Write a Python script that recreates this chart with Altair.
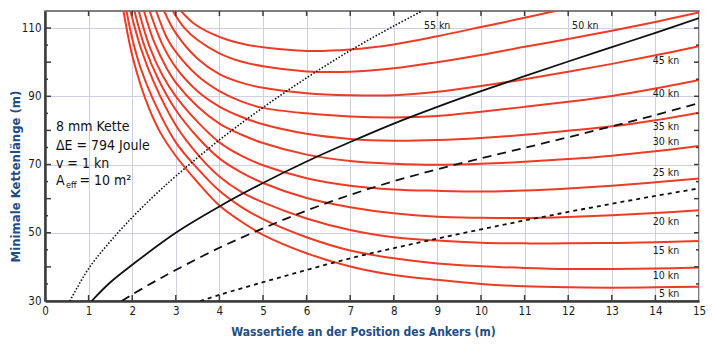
import altair as alt
import pandas as pd

FONT = "DejaVu Sans Condensed, Liberation Sans Narrow, sans-serif"
RED = "#ef3b24"
BLUE = "#1f4e85"

# ---- red curves (speed in kn): water depth x, minimal chain length y ----
speeds = [5, 10, 15, 20, 25, 30, 35, 40, 45, 50, 55]

x_5 = [1.80, 1.9, 2.0, 2.2, 2.4, 2.64, 3.0, 3.5, 4.0, 4.5, 5, 6, 7, 8, 9, 10, 11, 12, 13, 14, 15]
y_5 = [115, 108, 102, 93, 86, 79.5, 72.5, 64.8, 58.0, 53.3, 49.4, 44.0, 40.1, 37.6, 36.2, 35.0, 34.3, 34.0, 33.9, 34.0, 34.2]

x_10 = [1.87, 2.0, 2.2, 2.5, 3.0, 3.5, 4.0, 4.5, 5, 6, 7, 8, 9, 10, 11, 12, 13, 14, 15]
y_10 = [115, 107, 98, 88.5, 76.5, 68.8, 62.3, 57.6, 54.0, 48.7, 44.8, 42.5, 41.0, 40.2, 39.7, 39.4, 39.4, 39.5, 39.8]

x_15 = [1.96, 2.2, 2.5, 3.0, 3.5, 4.0, 4.5, 5, 6, 7, 8, 9, 10, 11, 12, 13, 14, 15]
y_15 = [115, 104, 94, 81.5, 73, 66.5, 62.0, 58.9, 54.2, 50.8, 48.7, 47.7, 47.1, 46.9, 46.9, 47.0, 47.2, 47.6]

x_20 = [2.05, 2.3, 2.6, 3.0, 3.5, 4.0, 4.5, 5, 6, 7, 8, 9, 10, 11, 12, 13, 14, 15]
y_20 = [115, 104, 95, 86, 78.0, 71.8, 67.7, 64.6, 60.2, 57.5, 55.7, 54.7, 54.4, 54.3, 54.6, 55.1, 55.8, 56.6]

x_25 = [2.15, 2.4, 2.7, 3.0, 3.5, 4.0, 4.5, 5, 6, 7, 8, 9, 10, 11, 12, 13, 14, 15]
y_25 = [115, 104.5, 96, 90, 82.5, 76.5, 72.6, 69.8, 66.0, 63.8, 62.7, 62.3, 62.1, 62.4, 63.0, 63.8, 64.8, 65.9]

x_30 = [2.27, 2.5, 2.8, 3.0, 3.5, 4.0, 4.5, 5, 6, 7, 8, 9, 10, 11, 12, 13, 14, 15]
y_30 = [115, 106, 98, 94, 87, 82.0, 78.8, 76.3, 72.9, 71.0, 70.2, 69.9, 70.2, 70.8, 71.6, 72.6, 73.9, 75.4]

x_35 = [2.40, 2.7, 3.0, 3.5, 4.0, 4.5, 5, 6, 7, 8, 9, 10, 11, 12, 13, 14, 15]
y_35 = [115, 105, 98.5, 91.5, 87.0, 84.0, 81.8, 79.0, 77.5, 77.0, 77.2, 77.8, 78.7, 79.9, 81.2, 83.0, 85.2]

x_40 = [2.55, 2.8, 3.0, 3.5, 4.0, 4.5, 5, 6, 7, 8, 9, 10, 11, 12, 13, 14, 15]
y_40 = [115, 107, 103, 96, 91.5, 88.5, 86.6, 85.0, 84.1, 83.8, 84.2, 85.5, 86.9, 88.4, 90.1, 92.3, 94.8]

x_45 = [2.73, 3.0, 3.5, 4.0, 4.5, 5, 6, 7, 8, 9, 10, 11, 12, 13, 14, 15]
y_45 = [115, 108.5, 101, 96.5, 94.0, 92.5, 90.9, 90.3, 90.3, 91.3, 93.0, 95.0, 97.2, 99.5, 102.0, 104.7]

x_50 = [2.93, 3.2, 3.5, 4.0, 4.5, 5, 6, 7, 8, 9, 10, 11, 12, 13, 14, 15]
y_50 = [115, 110, 106.5, 102.6, 100.2, 98.8, 97.3, 97.2, 98.2, 100, 102.1, 104.5, 106.8, 109.2, 111.8, 114.6]

x_55 = [3.12, 3.4, 3.8, 4.2, 4.6, 5, 6, 7, 8, 9, 10, 11, 11.7]
y_55 = [115, 111.5, 108.5, 106.5, 105.2, 104.4, 103.3, 103.7, 105.2, 107.6, 110.3, 113.0, 115]

red_x = [x_5, x_10, x_15, x_20, x_25, x_30, x_35, x_40, x_45, x_50, x_55]
red_y = [y_5, y_10, y_15, y_20, y_25, y_30, y_35, y_40, y_45, y_50, y_55]

# ---- black reference curves ----
solid_x = [1.07, 1.5, 2, 3, 4, 5, 6, 7, 8, 9, 10, 11, 12, 13, 14, 15]
solid_y = [30, 35.5, 40.6, 50.0, 57.7, 64.6, 70.9, 76.6, 82.0, 86.9, 91.5, 95.9, 100.2, 104.4, 108.6, 112.9]

dashed_x = [1.76, 2, 2.5, 3, 4, 5, 6, 7, 8, 9, 10, 11, 12, 13, 14, 15]
dashed_y = [30, 31.9, 35.6, 39.1, 45.6, 51.3, 56.5, 61.1, 65.1, 68.6, 71.8, 74.9, 78.0, 81.2, 84.5, 88.0]

short_x = [3.56, 4, 5, 6, 7, 8, 9, 10, 11, 12, 13, 14, 15]
short_y = [30, 31.8, 35.5, 39.1, 42.5, 45.5, 48.3, 51.0, 53.6, 56.1, 58.5, 60.8, 63.0]

dotted_x = [0.57, 1, 1.5, 2, 2.5, 3, 4, 5, 6, 7, 8, 8.65]
dotted_y = [30, 39.5, 47.5, 54.5, 60.8, 66.6, 77.2, 86.7, 95.4, 103.4, 110.6, 115]

# ---- speed labels ----
lab_text = ["55 kn", "50 kn", "45 kn", "40 kn", "35 kn", "30 kn", "25 kn", "20 kn", "15 kn", "10 kn", "5 kn"]
lab_x = [8.69, 12.09, 13.94, 13.94, 13.94, 13.94, 13.94, 13.94, 13.94, 13.94, 14.08]
lab_y = [110.6, 110.6, 100.4, 90.7, 81.0, 76.6, 67.5, 53.2, 44.8, 37.3, 32.1]

# ---- annotation block ----
note_text = ["8 mm Kette", "\u0394E = 794 Joule", "v = 1 kn", "A", "= 10 m\u00b2"]
note_x = [0.25, 0.25, 0.25, 0.25, 0.79]
note_y = [81.0, 75.5, 70.2, 65.2, 65.2]
sub_text = ["eff"]
sub_x = [0.48]
sub_y = [64.0]

# ---- axis ticks ----
x_ticks = list(range(1, 15))
y_major = [40, 50, 60, 70, 80, 90, 100, 110]
y_minor = [35, 45, 55, 65, 75, 85, 95, 105]

W, H = 654, 290
xs = alt.Scale(domain=[0, 15], nice=False, zero=False)
ys = alt.Scale(domain=[30, 115], nice=False, zero=False)

rows = []
for s, xx, yy in zip(speeds, red_x, red_y):
    for a, b in zip(xx, yy):
        rows.append({"x": a, "y": b, "speed": s})
red_df = pd.DataFrame(rows)

xaxis = alt.Axis(values=list(range(0, 16)), grid=True, gridColor="#cfcfe6", gridWidth=1,
                 ticks=False, tickSize=0, domainColor="#3c3c3c", domainWidth=2.5,
                 labelFont=FONT, labelFontSize=11.5, labelColor="#1a1a1a", labelPadding=4,
                 title="Wassertiefe an der Position des Ankers (m)", titleFont=FONT,
                 titleFontSize=12, titleFontWeight="bold", titleColor=BLUE,
                 titleX=318, titleY=34, titleAlign="center", titleBaseline="alphabetic",
                 labelFlush=False)
yaxis = alt.Axis(values=list(range(30, 116, 5)), grid=True, gridColor="#cfcfe6", gridWidth=1,
                 ticks=False, tickSize=0, domainColor="#3c3c3c", domainWidth=2.5,
                 labelExpr="datum.value % 10 == 0 ? datum.label : ''",
                 labelFont=FONT, labelFontSize=11.5, labelColor="#1a1a1a", labelPadding=4,
                 title="Minimale Kettenlänge (m)", titleFont=FONT, titleFontSize=13,
                 titleFontWeight="bold", titleColor=BLUE, titleAngle=270,
                 titleX=-30, titleY=165, titleAlign="center", titleBaseline="middle",
                 labelFlush=False)

INTERP = "catmull-rom"

red = alt.Chart(red_df).mark_line(color=RED, strokeWidth=2, clip=True, interpolate=INTERP).encode(
    x=alt.X("x:Q", scale=xs, axis=xaxis),
    y=alt.Y("y:Q", scale=ys, axis=yaxis),
    detail="speed:N",
)

def black(xx, yy, dash=None, width=1.8):
    df = pd.DataFrame({"x": xx, "y": yy})
    kw = dict(color="#111111", strokeWidth=width, clip=True, interpolate=INTERP)
    if dash is not None:
        kw["strokeDash"] = dash
    return alt.Chart(df).mark_line(**kw).encode(
        x=alt.X("x:Q", scale=xs), y=alt.Y("y:Q", scale=ys))

solid = black(solid_x, solid_y)
dashed = black(dashed_x, dashed_y, [9, 6])
shortd = black(short_x, short_y, [4, 4])
dotted = black(dotted_x, dotted_y, [1.5, 1.8], 1.6)

labels = alt.Chart(pd.DataFrame({"x": lab_x, "y": lab_y, "t": lab_text})).mark_text(
    align="left", baseline="middle", font=FONT, fontSize=10.5, color="#1a1a1a"
).encode(x=alt.X("x:Q", scale=xs), y=alt.Y("y:Q", scale=ys), text="t:N")

notes = alt.Chart(pd.DataFrame({"x": note_x, "y": note_y, "t": note_text})).mark_text(
    align="left", baseline="middle", font=FONT, fontSize=14, color="#111111"
).encode(x=alt.X("x:Q", scale=xs), y=alt.Y("y:Q", scale=ys), text="t:N")

subs = alt.Chart(pd.DataFrame({"x": sub_x, "y": sub_y, "t": sub_text})).mark_text(
    align="left", baseline="middle", font=FONT, fontSize=9, color="#111111"
).encode(x=alt.X("x:Q", scale=xs), y=alt.Y("y:Q", scale=ys), text="t:N")

tick_color = "#3c3c3c"
xt = pd.DataFrame({"v": x_ticks})
ymaj = pd.DataFrame({"v": y_major})
ymin = pd.DataFrame({"v": y_minor})

bt = alt.Chart(xt).mark_rule(color=tick_color, strokeWidth=1.5).encode(
    x=alt.X("v:Q", scale=xs), y=alt.value(H), y2=alt.value(H - 6))
tt = alt.Chart(xt).mark_rule(color=tick_color, strokeWidth=1.5).encode(
    x=alt.X("v:Q", scale=xs), y=alt.value(0), y2=alt.value(5))
lt = alt.Chart(ymaj).mark_rule(color=tick_color, strokeWidth=1.5).encode(
    y=alt.Y("v:Q", scale=ys), x=alt.value(0), x2=alt.value(6))
lt2 = alt.Chart(ymin).mark_rule(color=tick_color, strokeWidth=1.5).encode(
    y=alt.Y("v:Q", scale=ys), x=alt.value(0), x2=alt.value(3))
rt = alt.Chart(ymaj).mark_rule(color=tick_color, strokeWidth=1.5).encode(
    y=alt.Y("v:Q", scale=ys), x=alt.value(W), x2=alt.value(W - 5))
rt2 = alt.Chart(ymin).mark_rule(color=tick_color, strokeWidth=1.5).encode(
    y=alt.Y("v:Q", scale=ys), x=alt.value(W), x2=alt.value(W - 3))

chart = alt.layer(red, dotted, solid, dashed, shortd, labels, notes, subs,
                  bt, tt, lt, lt2, rt, rt2).properties(
    width=W, height=H,
    autosize=alt.AutoSizeParams(type="none"),
    padding={"left": 45, "top": 11, "right": 13, "bottom": 44},
    background="white",
).configure_view(stroke="#555555", strokeWidth=1.5)

chart.save("out.html", embed_options={"renderer": "svg", "actions": False})
